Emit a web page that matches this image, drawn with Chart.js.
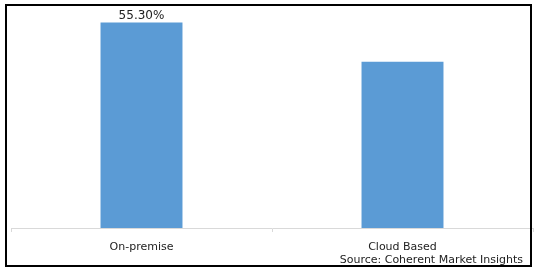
<!DOCTYPE html>
<html>
<head>
<meta charset="utf-8">
<script src="https://cdn.jsdelivr.net/npm/chart.js@4/dist/chart.umd.min.js"></script>
<style>
  html, body { margin: 0; padding: 0; background: #fff; }
  #wrap { position: relative; width: 538px; height: 272px; }
  #frame { position: absolute; left: 5px; top: 4px; width: 523px; height: 259px; border: 2px solid #000; pointer-events: none; }
  #source { position: absolute; right: 15px; top: 253px; font: 11px "DejaVu Sans", sans-serif; color: #222; white-space: nowrap; }
  canvas { position: absolute; left: 0; top: 0; }
</style>
</head>
<body>
<div id="wrap">
  <canvas id="chart" width="538" height="272"></canvas>
  <div id="frame"></div>
  <div id="source">Source: Coherent Market Insights</div>
</div>
<script>
const categories = ["On-premise", "Cloud Based"];
const shares = [55.3, 44.7];
const valueLabels = ["55.30%", ""];

// draws the % label above each bar that has one
const barLabels = {
  id: "barLabels",
  afterDatasetsDraw(chart) {
    const ctx = chart.ctx;
    const meta = chart.getDatasetMeta(0);
    ctx.save();
    ctx.font = '12px "DejaVu Sans", sans-serif';
    ctx.fillStyle = "#222";
    ctx.textAlign = "center";
    ctx.textBaseline = "bottom";
    meta.data.forEach((bar, i) => {
      if (valueLabels[i]) ctx.fillText(valueLabels[i], bar.x, bar.y - 1);
    });
    ctx.restore();
  }
};

new Chart(document.getElementById("chart"), {
  type: "bar",
  data: {
    labels: categories,
    datasets: [{ data: shares, backgroundColor: "#5b9bd5", categoryPercentage: 1, barPercentage: 0.314 }]
  },
  options: {
    responsive: false,
    animation: false,
    layout: { padding: { left: 11, right: 5, top: 5, bottom: 0 } },
    plugins: { legend: { display: false }, tooltip: { enabled: false } },
    scales: {
      x: {
        afterFit: (scale) => { scale.height = 44; },
        border: { color: "#d9d9d9", width: 1 },
        grid: { display: true, offset: true, drawOnChartArea: false, tickLength: 4, color: "#d9d9d9" },
        ticks: { color: "#222", padding: 9, font: { family: "DejaVu Sans", size: 11 } }
      },
      y: { display: false, min: 0, max: 60 }
    }
  },
  plugins: [barLabels]
});
</script>
</body>
</html>
